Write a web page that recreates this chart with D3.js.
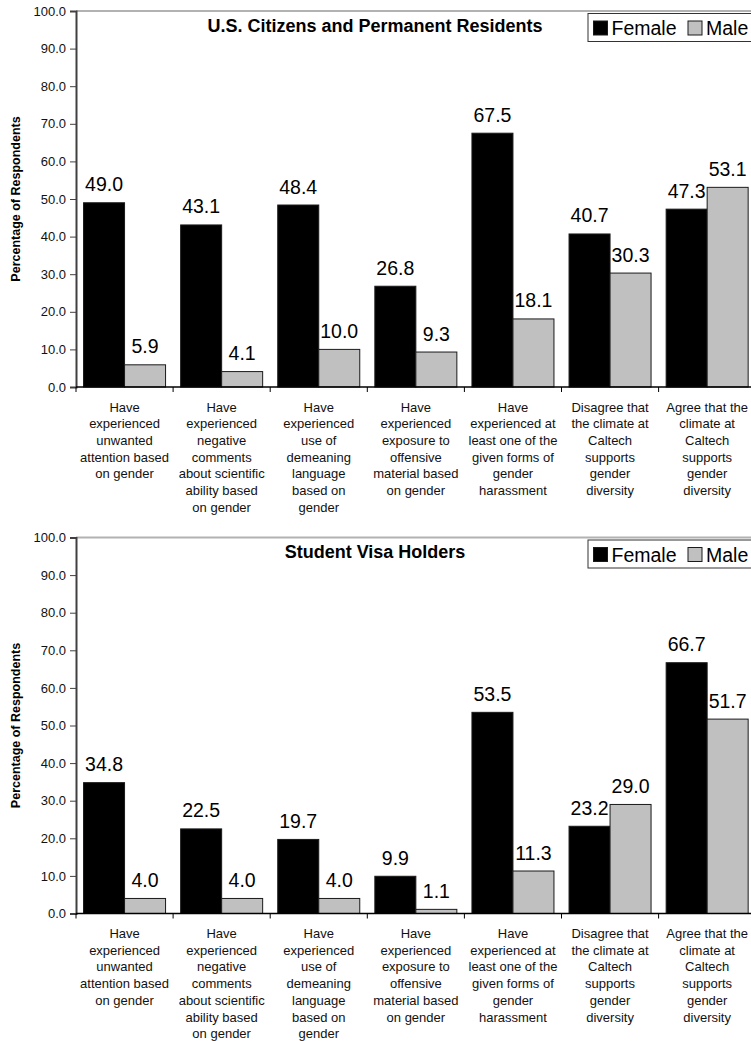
<!DOCTYPE html>
<html>
<head>
<meta charset="utf-8">
<script src="https://cdn.jsdelivr.net/npm/d3@7"></script>
<style>
  html, body { margin: 0; padding: 0; background: #fff; }
  svg { display: block; font-family: "Liberation Sans", Arial, sans-serif; }
</style>
</head>
<body>
<svg id="chart" width="751" height="1041"></svg>
<script>
// Survey categories (each entry is the wrapped label, one string per line)
const categories = [
  ["Have", "experienced", "unwanted", "attention based", "on gender"],
  ["Have", "experienced", "negative", "comments", "about scientific", "ability based", "on gender"],
  ["Have", "experienced", "use of", "demeaning", "language", "based on", "gender"],
  ["Have", "experienced", "exposure to", "offensive", "material based", "on gender"],
  ["Have", "experienced at", "least one of the", "given forms of", "gender", "harassment"],
  ["Disagree that", "the climate at", "Caltech", "supports", "gender", "diversity"],
  ["Agree that the", "climate at", "Caltech", "supports", "gender", "diversity"]
];

const seriesNames = ["Female", "Male"];
const seriesColors = ["#000000", "#c0c0c0"];

// U.S. Citizens and Permanent Residents
const citizenFemale = [49.0, 43.1, 48.4, 26.8, 67.5, 40.7, 47.3];
const citizenMale   = [5.9, 4.1, 10.0, 9.3, 18.1, 30.3, 53.1];

// Student Visa Holders
const visaFemale = [34.8, 22.5, 19.7, 9.9, 53.5, 23.2, 66.7];
const visaMale   = [4.0, 4.0, 4.0, 1.1, 11.3, 29.0, 51.7];

const yTickValues = [0, 10, 20, 30, 40, 50, 60, 70, 80, 90, 100];
const yAxisTitle = "Percentage of Respondents";

const panels = [
  { title: "U.S. Citizens and Permanent Residents", female: citizenFemale, male: citizenMale, top: 11 },
  { title: "Student Visa Holders", female: visaFemale, male: visaMale, top: 537.5 }
];

const svg = d3.select("#chart");
const plotLeft = 76, plotRight = 755.7, plotHeight = 376;

function drawPanel(p) {
  const g = svg.append("g").attr("transform", `translate(0,${p.top})`);

  const x = d3.scaleBand().domain(d3.range(categories.length)).range([plotLeft, plotRight]).padding(0);
  const xs = d3.scaleBand().domain(seriesNames).range([0, x.bandwidth()]).paddingInner(0).paddingOuter(0.184);
  const y = d3.scaleLinear().domain([0, 100]).range([plotHeight, 0]);

  // plot area top border
  g.append("line")
    .attr("x1", plotLeft).attr("x2", plotRight)
    .attr("y1", 0).attr("y2", 0)
    .attr("stroke", "#b2b2b2").attr("stroke-width", 2);

  // bars
  const rows = categories.map((c, i) => ({ i, values: [p.female[i], p.male[i]] }));
  const groups = g.selectAll("g.cat").data(rows).join("g")
    .attr("class", "cat")
    .attr("transform", d => `translate(${x(d.i)},0)`);

  groups.selectAll("rect").data(d => d.values.map((v, k) => ({ v, k }))).join("rect")
    .attr("x", d => xs(seriesNames[d.k]))
    .attr("y", d => y(d.v))
    .attr("width", xs.bandwidth())
    .attr("height", d => y(0) - y(d.v))
    .attr("fill", d => seriesColors[d.k])
    .attr("stroke", "#1a1a1a")
    .attr("stroke-width", 1);

  // value labels
  groups.selectAll("text.val").data(d => d.values.map((v, k) => ({ v, k }))).join("text")
    .attr("class", "val")
    .attr("x", d => xs(seriesNames[d.k]) + xs.bandwidth() / 2)
    .attr("y", d => y(d.v) - 11.5)
    .attr("text-anchor", "middle")
    .attr("font-size", 19.5)
    .attr("fill", "#000")
    .text(d => d3.format(".1f")(d.v));

  // y axis
  const yAxis = g.append("g")
    .attr("transform", `translate(${plotLeft},0)`)
    .call(d3.axisLeft(y).tickValues(yTickValues).tickFormat(d3.format(".1f")).tickSize(6).tickPadding(4));
  yAxis.select(".domain").attr("stroke", "#404040").attr("stroke-width", 2);
  yAxis.selectAll(".tick line").attr("stroke", "#404040");
  yAxis.selectAll(".tick text").attr("font-size", 13).attr("fill", "#111")
    .style("font-family", '"Liberation Sans", Arial, sans-serif');

  // x axis with ticks at category boundaries
  const xAxisG = g.append("g").attr("transform", `translate(0,${plotHeight})`);
  xAxisG.append("line")
    .attr("x1", plotLeft).attr("x2", plotRight)
    .attr("y1", 0).attr("y2", 0)
    .attr("stroke", "#000").attr("stroke-width", 1.5);
  xAxisG.selectAll("line.tk").data(d3.range(categories.length + 1)).join("line")
    .attr("class", "tk")
    .attr("x1", i => plotLeft + i * x.step()).attr("x2", i => plotLeft + i * x.step())
    .attr("y1", 0).attr("y2", 5)
    .attr("stroke", "#000").attr("stroke-width", 1);

  // category labels
  const lbl = xAxisG.selectAll("text.cat").data(categories).join("text")
    .attr("class", "cat")
    .attr("text-anchor", "middle")
    .attr("font-size", 13)
    .attr("fill", "#111")
    .attr("transform", (d, i) => `translate(${x(i) + x.bandwidth() / 2},24.5)`);
  lbl.selectAll("tspan").data(d => d).join("tspan")
    .attr("x", 0)
    .attr("y", (d, j) => j * 16.7)
    .text(d => d);

  // y axis title
  g.append("text")
    .attr("transform", `translate(20,${plotHeight / 2}) rotate(-90)`)
    .attr("text-anchor", "middle")
    .attr("font-size", 12.5)
    .attr("font-weight", "bold")
    .text(yAxisTitle);

  // chart title
  g.append("text")
    .attr("x", 375)
    .attr("y", 20.5)
    .attr("text-anchor", "middle")
    .attr("font-size", 18)
    .attr("font-weight", "bold")
    .text(p.title);

  // legend
  const lg = g.append("g").attr("transform", "translate(588,2.5)");
  lg.append("rect")
    .attr("x", 0).attr("y", 0).attr("width", 175).attr("height", 28)
    .attr("fill", "#fff").attr("stroke", "#333").attr("stroke-width", 1);
  const legendX = [5.5, 100];
  const items = lg.selectAll("g.item").data(seriesNames).join("g")
    .attr("class", "item")
    .attr("transform", (d, k) => `translate(${legendX[k]},0)`);
  items.append("rect")
    .attr("x", 0).attr("y", 7.5).attr("width", 14).attr("height", 14)
    .attr("fill", (d, k) => seriesColors[k])
    .attr("stroke", "#1a1a1a").attr("stroke-width", 1);
  items.append("text")
    .attr("x", 18).attr("y", 21.5)
    .attr("font-size", 19.5)
    .attr("fill", "#000")
    .text(d => d);
}

panels.forEach(drawPanel);
</script>
</body>
</html>
